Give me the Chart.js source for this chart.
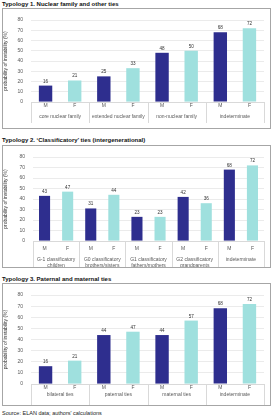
<!DOCTYPE html>
<html>
<head>
<meta charset="utf-8">
<script src="https://cdn.jsdelivr.net/npm/chart.js@4.4.0/dist/chart.umd.min.js"></script>
<style>
    body { margin: 0; width: 276px; height: 416px; background: #fff; font-family: Arial, "Liberation Sans", sans-serif; overflow: hidden; }
    .title { position: absolute; left: 2px; font-size: 6px; font-weight: bold; color: #111; white-space: nowrap; }
    .box { position: absolute; left: 2px; width: 267px; border: 1px solid #a6a6a6; }
    .box canvas { position: absolute; left: 0; top: 0; }
    .source { position: absolute; left: 2px; top: 410px; font-size: 5.5px; color: #222; white-space: nowrap; }
</style>
</head>
<body>
<div class="title" style="top:1px">Typology 1. Nuclear family and other ties</div>
<div class="box" style="top:8px;height:119px"><canvas id="chart1"></canvas></div>

<div class="title" style="top:137px">Typology 2. ‘Classificatory’ ties (intergenerational)</div>
<div class="box" style="top:145px;height:121px"><canvas id="chart2"></canvas></div>

<div class="title" style="top:276px">Typology 3. Paternal and maternal ties</div>
<div class="box" style="top:283px;height:121px"><canvas id="chart3"></canvas></div>

<div class="source">Source: ELAN data; authors' calculations</div>

<script>
// typology 1
const groups1 = ['core nuclear family', 'extended nuclear family', 'non-nuclear family', 'indeterminate'];
const male1 = [16, 25, 48, 68];
const female1 = [21, 33, 50, 72];

// typology 2
const groups2 = [['G-1 classificatory', 'children'], ['G0 classificatory', 'brothers/sisters'],
    ['G1 classificatory', 'fathers/mothers'], ['G2 classificatory', 'grandparents'], 'indeterminate'];
const male2 = [43, 31, 23, 42, 68];
const female2 = [47, 44, 23, 36, 72];

// typology 3
const groups3 = ['bilateral ties', 'paternal ties', 'maternal ties', 'indeterminate'];
const male3 = [16, 44, 44, 68];
const female3 = [21, 47, 57, 72];

const sexLabels = ['M', 'F'];
const yTicks = [0, 10, 20, 30, 40, 50, 60, 70, 80];

const navy = '#2e2e8e';
const teal = '#9fe0de';
const fontFamily = 'Arial, "Liberation Sans", sans-serif';
const tickFont = { family: fontFamily, size: 5 };

// value labels above each bar
const valueLabels = {
    id: 'valueLabels',
    afterDatasetsDraw(chart) {
        const ctx = chart.ctx;
        const values = chart.data.datasets[0].data;
        ctx.save();
        ctx.font = '4.6px ' + fontFamily;
        ctx.fillStyle = '#333';
        ctx.textAlign = 'center';
        ctx.textBaseline = 'bottom';
        chart.getDatasetMeta(0).data.forEach((bar, i) => {
            ctx.fillText(values[i], bar.x, bar.y - 2);
        });
        ctx.restore();
    }
};

// vertical separators between the groups under the axis
const groupLines = {
    id: 'groupLines',
    afterDraw(chart) {
        const ctx = chart.ctx;
        const x = chart.scales.x;
        const area = chart.chartArea;
        const n = chart.data.labels.length;
        const bottom = area.bottom + chart.config.options.plugins.groupLines.depth;
        ctx.save();
        ctx.strokeStyle = '#d9d9d9';
        ctx.lineWidth = 1;
        for (let i = 0; i <= n; i += 2) {
            let px;
            if (i === 0) px = area.left;
            else if (i === n) px = area.right;
            else px = (x.getPixelForValue(i - 1) + x.getPixelForValue(i)) / 2;
            px = Math.round(px) + 0.5;
            ctx.beginPath();
            ctx.moveTo(px, area.bottom);
            ctx.lineTo(px, bottom);
            ctx.stroke();
        }
        ctx.restore();
    }
};

function makeChart(id, width, height, groups, male, female, opts) {
    const labels = [];
    const data = [];
    const colors = [];
    groups.forEach((g, i) => {
        labels.push(sexLabels[0], sexLabels[1]);
        data.push(male[i], female[i]);
        colors.push(navy, teal);
    });

    const canvas = document.getElementById(id);
    canvas.width = width;
    canvas.height = height;
    canvas.style.width = width + 'px';
    canvas.style.height = height + 'px';

    return new Chart(canvas, {
        type: 'bar',
        data: {
            labels: labels,
            datasets: [{
                data: data,
                backgroundColor: colors,
                borderWidth: 0,
                barPercentage: opts.barPct,
                categoryPercentage: 1
            }]
        },
        options: {
            responsive: false,
            animation: false,
            layout: { padding: { top: opts.top, right: 6, left: 0, bottom: opts.bottom } },
            plugins: {
                legend: { display: false },
                tooltip: { enabled: false },
                groupLines: { depth: opts.depth }
            },
            scales: {
                y: {
                    min: 0,
                    max: 80,
                    afterBuildTicks: s => { s.ticks = yTicks.map(v => ({ value: v })); },
                    afterFit: s => { s.width = opts.left; },
                    border: { display: false },
                    grid: { color: '#e6e6e6', lineWidth: 0.8, drawTicks: false },
                    ticks: { font: tickFont, color: '#595959', padding: 8 },
                    title: {
                        display: true,
                        text: 'probability of instability (%)',
                        font: { family: fontFamily, size: 5 },
                        color: '#333',
                        padding: { top: 0, bottom: 2 }
                    }
                },
                x: {
                    border: { color: '#d9d9d9' },
                    grid: { display: false, tickLength: 0 },
                    ticks: { font: tickFont, color: '#595959', padding: opts.xPad, maxRotation: 0, autoSkip: false }
                },
                x2: {
                    type: 'category',
                    position: 'bottom',
                    labels: groups,
                    offset: true,
                    border: { display: false },
                    grid: { display: false, tickLength: 0 },
                    ticks: { font: tickFont, color: '#595959', padding: opts.x2Pad, maxRotation: 0, autoSkip: false }
                }
            }
        },
        plugins: [valueLabels, groupLines]
    });
}

makeChart('chart1', 267, 119, groups1, male1, female1,
    { top: 0, left: 28, bottom: 4, xPad: 1, x2Pad: 4, depth: 21, barPct: 0.46 });
makeChart('chart2', 267, 121, groups2, male2, female2,
    { top: 0, left: 30, bottom: -2, xPad: 5, x2Pad: 0, depth: 31, barPct: 0.48 });
makeChart('chart3', 267, 121, groups3, male3, female3,
    { top: 1, left: 28, bottom: 7, xPad: 1, x2Pad: 0, depth: 21, barPct: 0.46 });
</script>
</body>
</html>
